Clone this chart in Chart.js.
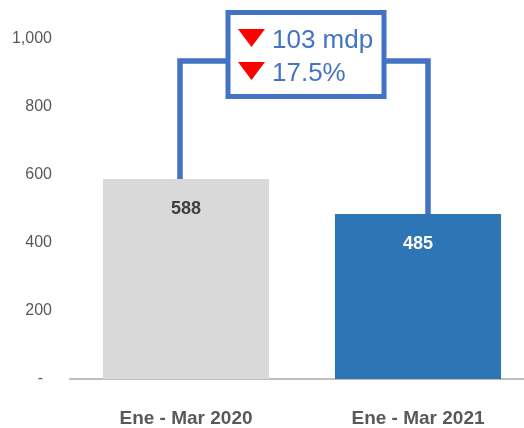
<!DOCTYPE html>
<html>
<head>
<meta charset="utf-8">
<script src="https://cdn.jsdelivr.net/npm/chart.js@4/dist/chart.umd.min.js"></script>
<style>
  html, body { margin: 0; padding: 0; background: #ffffff; }
  #wrap { width: 524px; height: 428px; }
</style>
</head>
<body>
<div id="wrap"><canvas id="c" width="524" height="428"></canvas></div>
<script>
// ---- data ----
const CATEGORIES = ['Ene - Mar 2020', 'Ene - Mar 2021'];
const VALUES = [588, 485];
const BAR_COLORS = ['#d9d9d9', '#2e75b6'];
const LABEL_COLORS = ['#404040', '#ffffff'];
const Y_TICKS = [0, 200, 400, 600, 800, 1000];
const CHANGE_TEXTS = ['103 mdp', '17.5%'];
const BRACKET_LEVEL = 935;

const BLUE = '#4472c4';
const FONT = "'Liberation Sans', Arial, sans-serif";
const X_OVERHANG = 10; // plot area continues past the right edge of the picture

const annotationPlugin = {
  id: 'annot',
  afterLayout(chart) {
    const xs = chart.scales.x;
    xs.right += X_OVERHANG;
    xs.width += X_OVERHANG;
    chart.chartArea.right += X_OVERHANG;
    chart.chartArea.width += X_OVERHANG;
    xs.configure();
  },
  afterDatasetsDraw(chart) {
    const ctx = chart.ctx;
    const xs = chart.scales.x, ys = chart.scales.y;
    const meta = chart.getDatasetMeta(0);

    // value labels inside bars
    ctx.save();
    ctx.font = 'bold 18px ' + FONT;
    ctx.textAlign = 'center';
    ctx.textBaseline = 'middle';
    meta.data.forEach((bar, i) => {
      ctx.fillStyle = LABEL_COLORS[i];
      ctx.fillText(String(VALUES[i]), bar.x, bar.y + 30);
    });
    ctx.restore();

    // bracket
    const xL = xs.getPixelForValue(0) - 6;
    const xR = xs.getPixelForValue(1) + 10;
    const yTopL = ys.getPixelForValue(VALUES[0]);
    const yTopR = ys.getPixelForValue(VALUES[1]);
    const yB = ys.getPixelForValue(BRACKET_LEVEL);
    const cx = (xL + xR) / 2 + 2;
    const boxW = 156, boxH = 84;
    const boxL = cx - boxW / 2, boxT = 12.5;

    ctx.save();
    ctx.strokeStyle = BLUE;
    ctx.lineWidth = 5.5;
    ctx.lineJoin = 'miter';
    ctx.beginPath();
    ctx.moveTo(xL, yTopL);
    ctx.lineTo(xL, yB);
    ctx.lineTo(boxL, yB);
    ctx.moveTo(boxL + boxW, yB);
    ctx.lineTo(xR, yB);
    ctx.lineTo(xR, yTopR);
    ctx.stroke();

    ctx.fillStyle = '#ffffff';
    ctx.fillRect(boxL, boxT, boxW, boxH);
    ctx.lineWidth = 5;
    ctx.strokeRect(boxL, boxT, boxW, boxH);

    // triangles and texts
    const rows = [{ tTop: 29, base: 48 }, { tTop: 62, base: 81 }];
    rows.forEach((r, i) => {
      const tx = boxL + 10;
      ctx.fillStyle = '#ff0000';
      ctx.beginPath();
      ctx.moveTo(tx, r.tTop);
      ctx.lineTo(tx + 27, r.tTop);
      ctx.lineTo(tx + 13.5, r.tTop + 18);
      ctx.closePath();
      ctx.fill();
      ctx.fillStyle = BLUE;
      ctx.font = '26px ' + FONT;
      ctx.textAlign = 'left';
      ctx.textBaseline = 'alphabetic';
      ctx.fillText(CHANGE_TEXTS[i], tx + 34, r.base);
    });
    ctx.restore();
  }
};

new Chart(document.getElementById('c'), {
  type: 'bar',
  data: {
    labels: CATEGORIES,
    datasets: [{
      data: VALUES,
      backgroundColor: BAR_COLORS,
      borderWidth: 0,
      categoryPercentage: 1,
      barPercentage: 0.716
    }]
  },
  options: {
    responsive: false,
    animation: false,
    devicePixelRatio: 1,
    layout: { padding: { left: 0, right: 0, top: 39, bottom: 0 } },
    plugins: { legend: { display: false }, tooltip: { enabled: false } },
    scales: {
      x: {
        grid: { display: false },
        border: { display: true, color: '#bfbfbf', width: 2 },
        ticks: { color: '#595959', font: { family: FONT, size: 19, weight: 'bold' }, padding: 20 },
        afterFit(scale) { scale.height = 49; }
      },
      y: {
        min: 0, max: 1000,
        grid: { display: false },
        border: { display: false },
        afterBuildTicks(scale) { scale.ticks = Y_TICKS.map(v => ({ value: v })); },
        ticks: {
          color: '#595959',
          font: { family: FONT, size: 16 },
          padding: 10,
          callback: (v) => v === 0 ? '-  ' : v.toLocaleString('en-US')
        },
        afterFit(scale) { scale.width = 70; }
      }
    }
  },
  plugins: [annotationPlugin]
});
</script>
</body>
</html>
